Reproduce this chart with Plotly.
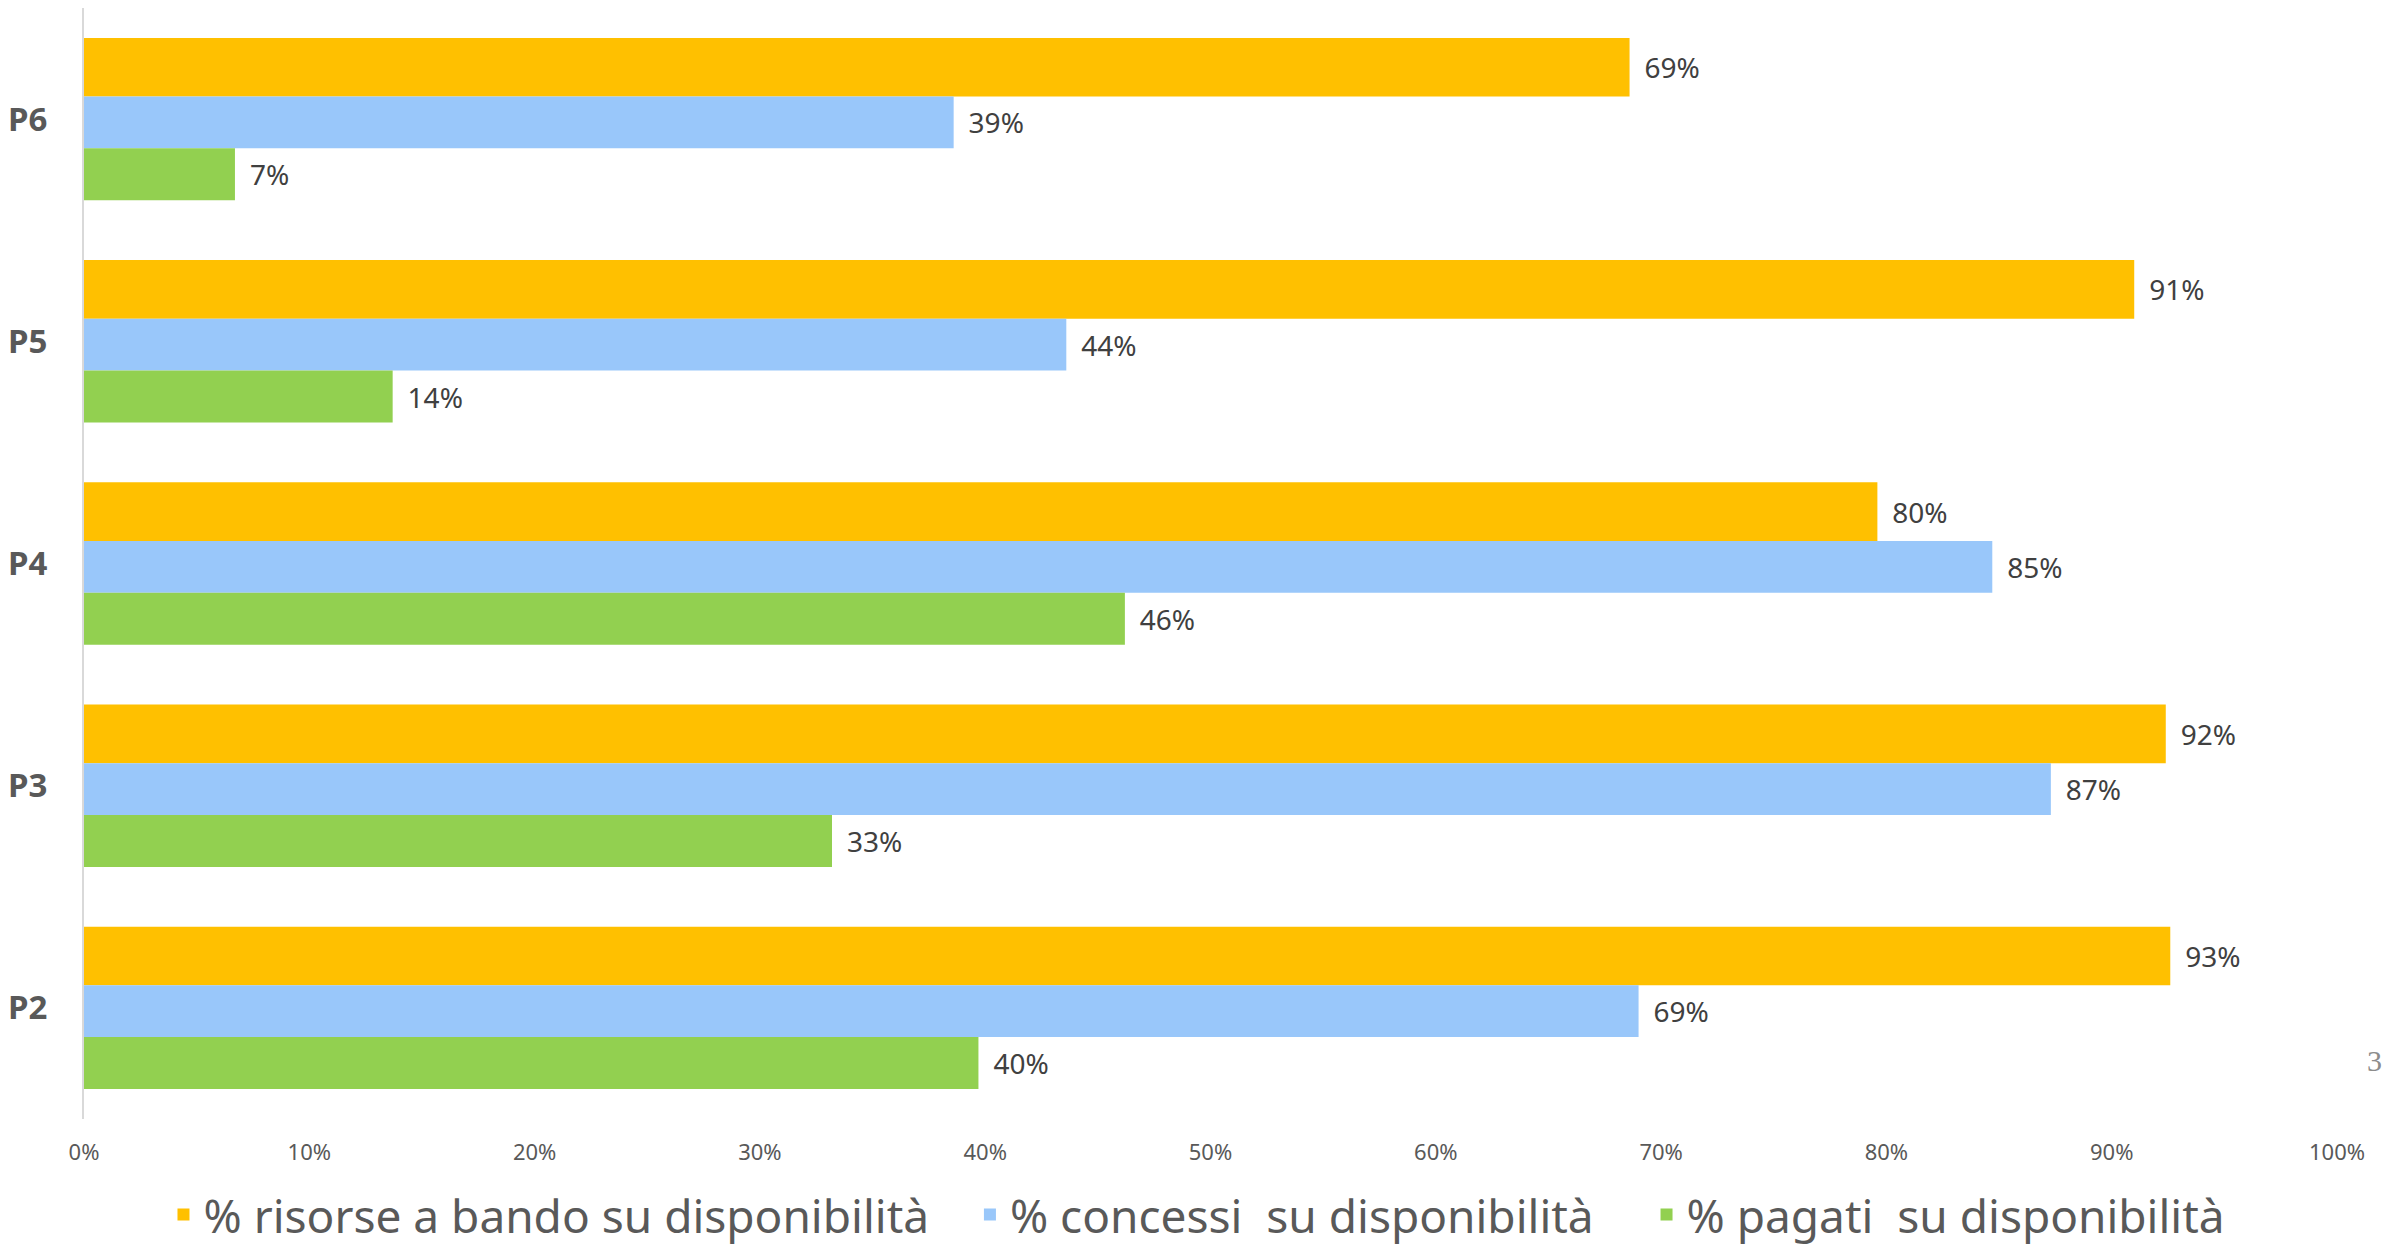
import plotly.graph_objects as go

categories = ["P2", "P3", "P4", "P5", "P6"]
series_names = [
    "% risorse a bando su disponibilità\u00a0\u00a0\u00a0",
    "% concessi\u00a0 su disponibilità\u00a0\u00a0\u00a0\u00a0",
    "% pagati\u00a0 su disponibilità",
]
risorse_bando = [0.926, 0.924, 0.796, 0.910, 0.686]
concessi = [0.690, 0.873, 0.847, 0.436, 0.386]
pagati = [0.397, 0.332, 0.462, 0.137, 0.067]
x_ticks = [0, 0.1, 0.2, 0.3, 0.4, 0.5, 0.6, 0.7, 0.8, 0.9, 1.0]

colors = ["#FFC000", "#99C7FA", "#92D050"]
widths = [0.264, 0.233, 0.234]
offsets = [0.1015, -0.1315, -0.3655]
values = [risorse_bando, concessi, pagati]

FONT = "Noto Sans"
fig = go.Figure()
for name, vals, col, w, off in zip(series_names, values, colors, widths, offsets):
    fig.add_trace(go.Bar(
        y=categories, x=vals, name=name, orientation="h",
        marker=dict(color=col, line=dict(width=0)),
        width=w, offset=off,
        texttemplate="\u00a0\u2009%{x:.0%}", textposition="outside",
        constraintext="none", cliponaxis=False,
        textfont=dict(family=FONT, size=28, color="#404040"),
    ))

fig.update_layout(
    width=2394, height=1237,
    barmode="overlay",
    plot_bgcolor="white", paper_bgcolor="white",
    margin=dict(l=76, r=65, t=0, b=126),
    font=dict(family=FONT, color="#595959"),
    xaxis=dict(range=[0, 1], tickvals=x_ticks, tickformat=".0%",
               showgrid=False, zeroline=False, showline=False, ticks="",
               tickfont=dict(family=FONT, size=22, color="#595959"),
               ticklabelstandoff=18),
    yaxis=dict(categoryorder="array", categoryarray=categories,
               range=[-0.5, 4.5], showgrid=False, zeroline=False,
               showline=True, linecolor="#D9D9D9", linewidth=2, ticks="",
               tickfont=dict(family=FONT, size=33, color="#595959", weight="bold"),
               ticklabelstandoff=28),
    legend=dict(orientation="h", xref="paper", x=0.494, xanchor="center",
                yref="container", y=0.0245, yanchor="middle",
                font=dict(family=FONT, size=46, color="#595959"),
                traceorder="normal"),
    showlegend=True,
    annotations=[dict(text="3", xref="paper", yref="paper", x=1.0208, y=0.036,
                      showarrow=False, font=dict(family="Liberation Serif", size=30, color="#8C8C8C"))],
)

fig.write_html("out.html")
